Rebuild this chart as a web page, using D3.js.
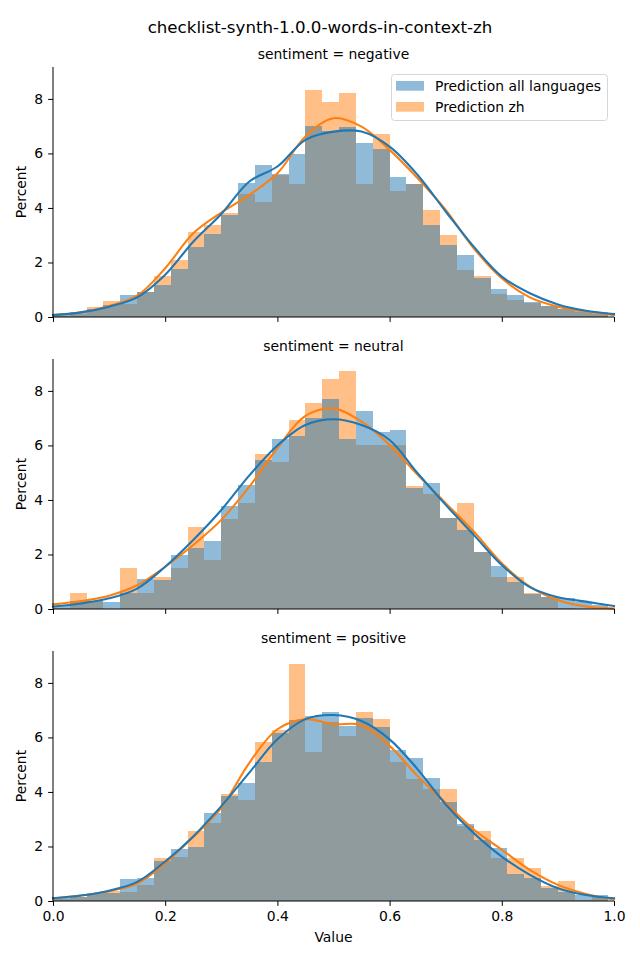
<!DOCTYPE html>
<html><head><meta charset="utf-8">
<script src="https://cdn.jsdelivr.net/npm/d3@7/dist/d3.min.js"></script>
<style>
body{margin:0;background:#fff}
text{font-family:"DejaVu Sans",sans-serif;fill:#000}
</style>
</head><body>
<svg id="chart" width="640" height="960"></svg>
<script>
// ---------- data ----------
const chartTitle = "checklist-synth-1.0.0-words-in-context-zh";
const categories = ["negative", "neutral", "positive"];
const seriesNames = ["Prediction all languages", "Prediction zh"];
const xTicks = [0, 0.2, 0.4, 0.6, 0.8, 1.0];
const yTicks = [0, 2, 4, 6, 8];
const binCount = 33;
const binLow = 0.0, binHigh = 0.99;

// histogram percentages per bin (33 bins)
const negativeAll = [0.10,0.17,0.28,0.44,0.81,0.93,1.17,1.76,2.58,3.06,3.74,4.92,5.57,5.26,5.97,7.01,6.83,6.98,6.37,6.15,5.15,4.88,3.39,2.64,2.28,1.42,1.04,0.81,0.55,0.42,0.30,0.22,0.18];
const negativeZh  = [0.05,0.12,0.35,0.59,0.48,0.93,1.50,2.09,3.10,3.37,3.80,4.51,4.20,5.20,4.88,8.33,7.89,8.20,4.88,6.72,4.64,4.88,3.93,3.01,1.74,1.50,0.83,0.62,0.50,0.40,0.30,0.20,0.10];
const neutralAll  = [0.12,0.29,0.30,0.26,0.60,1.10,1.07,1.99,2.25,2.50,3.77,4.56,5.48,6.22,6.34,7.02,7.69,6.24,7.27,6.50,6.57,4.43,4.64,3.33,2.90,2.08,1.59,1.00,0.55,0.43,0.39,0.27,0.15];
const neutralZh   = [0.05,0.60,0.30,0.00,1.51,0.58,1.17,1.51,3.02,1.80,3.31,3.90,5.69,5.41,6.93,7.55,8.43,8.72,6.02,6.02,6.02,4.51,4.20,3.35,3.89,2.10,1.19,1.17,0.60,0.43,0.03,0.00,0.05];
const positiveAll = [0.10,0.16,0.25,0.31,0.80,0.86,1.45,1.92,1.97,3.21,3.85,4.31,5.09,6.15,6.65,6.80,6.93,6.41,6.73,6.38,5.53,5.23,4.50,3.62,2.84,2.25,1.94,0.98,0.84,0.47,0.34,0.22,0.22];
const positiveZh  = [0.07,0.16,0.28,0.38,0.34,0.59,1.58,1.63,2.58,2.85,3.94,3.72,5.82,6.28,8.68,5.45,6.56,6.07,6.95,6.69,5.10,4.48,4.09,4.09,2.74,2.58,1.57,1.57,1.20,0.55,0.74,0.02,0.13];

// KDE curves read at these x positions
const kdeX = [0,0.05,0.10,0.15,0.20,0.25,0.30,0.35,0.40,0.45,0.50,0.55,0.60,0.65,0.70,0.75,0.80,0.85,0.90,0.95,1.00];
const negativeAllKde = [0.07,0.17,0.38,0.72,1.55,2.76,3.78,4.97,5.52,6.50,6.80,6.80,6.25,5.21,3.87,2.58,1.48,0.87,0.46,0.23,0.11];
const negativeZhKde  = [0.07,0.17,0.40,0.78,1.79,3.07,3.83,4.48,5.27,6.62,7.29,6.98,6.13,5.09,3.93,2.52,1.42,0.72,0.38,0.20,0.07];
const neutralAllKde  = [0.09,0.20,0.39,0.75,1.55,2.53,3.63,4.90,6.00,6.75,6.96,6.75,6.20,4.98,3.82,2.72,1.61,0.80,0.43,0.27,0.11];
const neutralZhKde   = [0.17,0.29,0.49,0.87,1.55,2.35,3.27,4.49,5.90,7.08,7.36,6.87,6.02,4.92,3.88,2.84,1.68,0.82,0.33,0.09,0.02];
const positiveAllKde = [0.10,0.20,0.38,0.70,1.45,2.37,3.48,4.71,5.93,6.67,6.82,6.60,5.93,4.83,3.54,2.49,1.63,0.96,0.47,0.22,0.10];
const positiveZhKde  = [0.10,0.20,0.36,0.64,1.39,2.35,3.42,5.07,6.30,6.67,6.49,6.45,5.69,4.58,3.60,2.62,1.88,1.14,0.59,0.26,0.06];

const histData = [[negativeAll, negativeZh],[neutralAll, neutralZh],[positiveAll, positiveZh]];
const kdeData  = [[negativeAllKde, negativeZhKde],[neutralAllKde, neutralZhKde],[positiveAllKde, positiveZhKde]];

// ---------- layout ----------
const colors = ["#1f77b4", "#ff7f0e"];
const plotLeft = 53, plotRight = 614;
const panelBottoms = [317, 609, 901];
const panelHeight = 250;
const yMax = 9.17;
const tickLen = 4.9, fs = 13.9;

const svg = d3.select("#chart");
const x = d3.scaleLinear().domain([0, 1]).range([plotLeft, plotRight]);
const binW = (binHigh - binLow) / binCount;
const binEdges = d3.range(binCount + 1).map(i => binLow + i * binW);

svg.append("text").attr("x", 320).attr("y", 33).attr("text-anchor", "middle")
  .style("font-size", "16.67px").text(chartTitle);

categories.forEach((cat, p) => {
  const bottom = panelBottoms[p], top = bottom - panelHeight;
  const y = d3.scaleLinear().domain([0, yMax]).range([bottom, top]);
  const g = svg.append("g");

  // bars: zh first, then all languages on top
  [1, 0].forEach(s => {
    g.append("g").attr("shape-rendering", "crispEdges")
      .selectAll("rect").data(histData[p][s]).join("rect")
      .attr("x", (d, i) => Math.round(x(binEdges[i])))
      .attr("width", (d, i) => Math.round(x(binEdges[i + 1])) - Math.round(x(binEdges[i])))
      .attr("y", d => y(d))
      .attr("height", d => y(0) - y(d))
      .attr("fill", colors[s]).attr("fill-opacity", 0.5);
  });

  // KDE lines
  const line = d3.line().x((d, i) => x(kdeX[i])).y(d => y(d)).curve(d3.curveCatmullRom.alpha(0.5));
  [1, 0].forEach(s => {
    g.append("path").datum(kdeData[p][s]).attr("d", line)
      .attr("fill", "none").attr("stroke", colors[s]).attr("stroke-width", 2.08)
      .attr("stroke-linecap", "square");
  });

  // axes
  const xa = d3.axisBottom(x).tickValues(xTicks).tickSize(tickLen).tickPadding(4.9)
    .tickFormat(p === 2 ? d3.format(".1f") : () => "");
  const xg = g.append("g").attr("transform", `translate(0,${bottom})`).call(xa);
  const ya = d3.axisLeft(y).tickValues(yTicks).tickSize(tickLen).tickPadding(4.9).tickFormat(d3.format("d"));
  const yg = g.append("g").attr("transform", `translate(${plotLeft},0)`).call(ya);
  [xg, yg].forEach(a => {
    a.select(".domain").attr("stroke", "#000").attr("stroke-width", 1)
      .attr("d", a === xg ? `M${plotLeft},0H${plotRight}` : `M0,${bottom}V${top}`);
    a.selectAll(".tick line").attr("stroke", "#000").attr("stroke-width", 1);
    a.selectAll(".tick text").style("font-size", fs + "px").style("font-family", "DejaVu Sans").attr("fill", "#000");
  });

  // panel title
  g.append("text").attr("x", (plotLeft + plotRight) / 2).attr("y", top - 8.3)
    .attr("text-anchor", "middle").style("font-size", fs + "px")
    .text("sentiment = " + cat);

  // y label
  g.append("text").attr("transform", `translate(26,${(top + bottom) / 2}) rotate(-90)`)
    .attr("text-anchor", "middle").style("font-size", fs + "px").text("Percent");
});

// x label
svg.append("text").attr("x", (plotLeft + plotRight) / 2).attr("y", 942)
  .attr("text-anchor", "middle").style("font-size", fs + "px").text("Value");

// legend
const lg = svg.append("g");
lg.append("rect").attr("x", 391.5).attr("y", 74.5).attr("width", 216).attr("height", 46).attr("rx", 3)
  .attr("fill", "#fff").attr("fill-opacity", 0.8).attr("stroke", "#d6d6d6").attr("stroke-width", 1);
seriesNames.forEach((name, i) => {
  lg.append("rect").attr("x", 396).attr("y", 81 + i * 21).attr("width", 28).attr("height", 9.7)
    .attr("fill", colors[i]).attr("fill-opacity", 0.5);
  lg.append("text").attr("x", 435).attr("y", 91 + i * 21).style("font-size", fs + "px").text(name);
});
</script>
</body></html>
